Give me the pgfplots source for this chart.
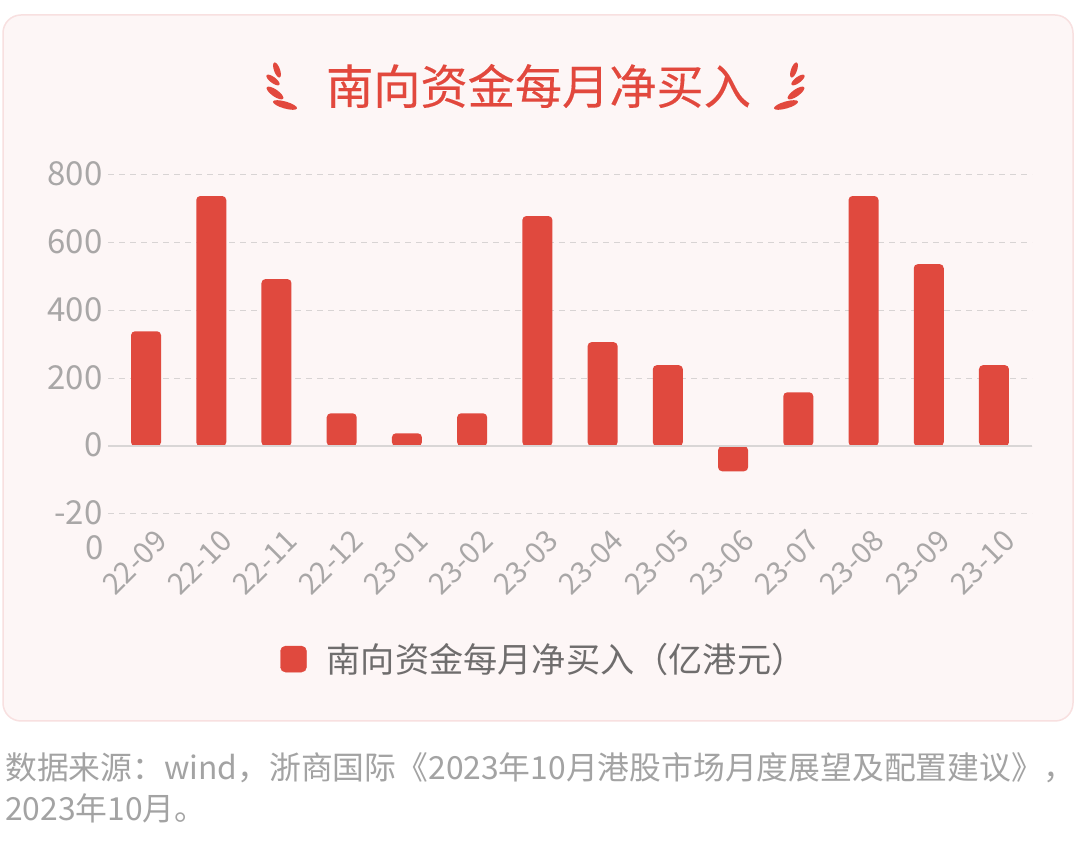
\documentclass[border=0pt]{standalone}
\usepackage{pgfplots}
\pgfplotsset{compat=1.18}
\usepackage{fontspec}
\setmainfont{Noto Sans CJK SC}
\newfontfamily\titlefont[FakeBold=0.25]{Noto Sans CJK SC}
\definecolor{barred}{HTML}{E0493E}
\definecolor{titlered}{HTML}{E2483D}
\definecolor{panel}{HTML}{FDF6F6}
\definecolor{panelline}{HTML}{F8E0E0}
\definecolor{ticktext}{HTML}{A9A7A7}
\definecolor{gridc}{HTML}{D8D4D4}
\definecolor{zeroc}{HTML}{D9D6D6}
\definecolor{legtext}{HTML}{6F6D6D}
\definecolor{srctext}{HTML}{A3A3A3}
\begin{document}
\begin{tikzpicture}[x=1pt,y=1pt]
    % page and panel
    \fill[white] (0,0) rectangle (1080,851);
    \draw[panelline,fill=panel,line width=1.5pt,rounded corners=18pt] (3,130) rectangle (1073,836);
    % title with the two laurels
    \node[titlered,font=\titlefont\fontsize{47.2}{50}\selectfont] at (538.5,765) {南向资金每月净买入};
    \foreach \sx/\ox in {1/0,-1/1071} {
        \begin{scope}[shift={(\ox,0)},xscale=\sx]
            \fill[titlered,rotate around={-70:(277,781)}] (277,781) ellipse (8 and 3);
            \fill[titlered,rotate around={-37:(273,771)}] (273,771) ellipse (8 and 3);
            \fill[titlered,rotate around={-35:(275,758)}] (275,758) ellipse (10 and 3.5);
            \fill[titlered,rotate around={-16:(285,746)}] (285,746) ellipse (12.5 and 3.5);
        \end{scope}
    }
    \begin{axis}[
            at={(108pt,337pt)},
            anchor=south west,
            scale only axis,
            width=924pt,
            height=339pt,
            xmin=-0.583, xmax=13.583,
            ymin=-200, ymax=800,
            axis line style={draw=none},
            major tick length=0pt,
            ybar,
            bar width=30pt,
            bar shift=0pt,
            xtick=data,
            xticklabels={22-09,22-10,22-11,22-12,23-01,23-02,23-03,23-04,23-05,23-06,23-07,23-08,23-09,23-10},
            xticklabel style={rotate=45,anchor=north east,xshift=-1pt,yshift=-12pt,text=ticktext,font=\fontsize{29.5}{32}\selectfont},
            ytick={-200,0,200,400,600,800},
            yticklabels={-20,0,200,400,600,800},
            yticklabel style={text=ticktext,font=\fontsize{33}{35}\selectfont,xshift=-2pt,yshift=1pt},
            ymajorgrids,
            grid style={gridc,dash pattern=on 6pt off 5pt,line width=1pt},
            clip=false,
            legend style={at={(axis cs:6.10,-628)},anchor=center,draw=none,fill=none,
                font=\fontsize{34.2}{36}\selectfont,text=legtext},
            legend image code/.code={
                \draw[barred,fill=barred,rounded corners=5pt] (0pt,-13pt) rectangle (26pt,13pt);
            },
        ]
        \addplot[fill=barred,draw=none,rounded corners=4pt] coordinates {
            (0,339) (1,738) (2,493) (3,97) (4,38) (5,97) (6,679)
            (7,307) (8,239) (9,-74) (10,159) (11,738) (12,537) (13,239)
        };
        \addlegendentry{\hspace{18pt}南向资金每月净买入（亿港元）}
        \draw[zeroc,line width=1.5pt] (axis cs:-0.583,0) -- (axis cs:13.583,0);
        \node[ticktext,font=\fontsize{33}{35}\selectfont,anchor=east,xshift=-1pt] at (axis cs:-0.583,-300) {0};
    \end{axis}
    % source note
    \node[srctext,anchor=base west,inner sep=0pt,font=\fontsize{31.8}{34}\selectfont] at (5,71) {数据来源：wind，浙商国际《2023年10月港股市场月度展望及配置建议》，};
    \node[srctext,anchor=base west,inner sep=0pt,font=\fontsize{31.8}{34}\selectfont] at (5,30) {2023年10月。};
\end{tikzpicture}
\end{document}
